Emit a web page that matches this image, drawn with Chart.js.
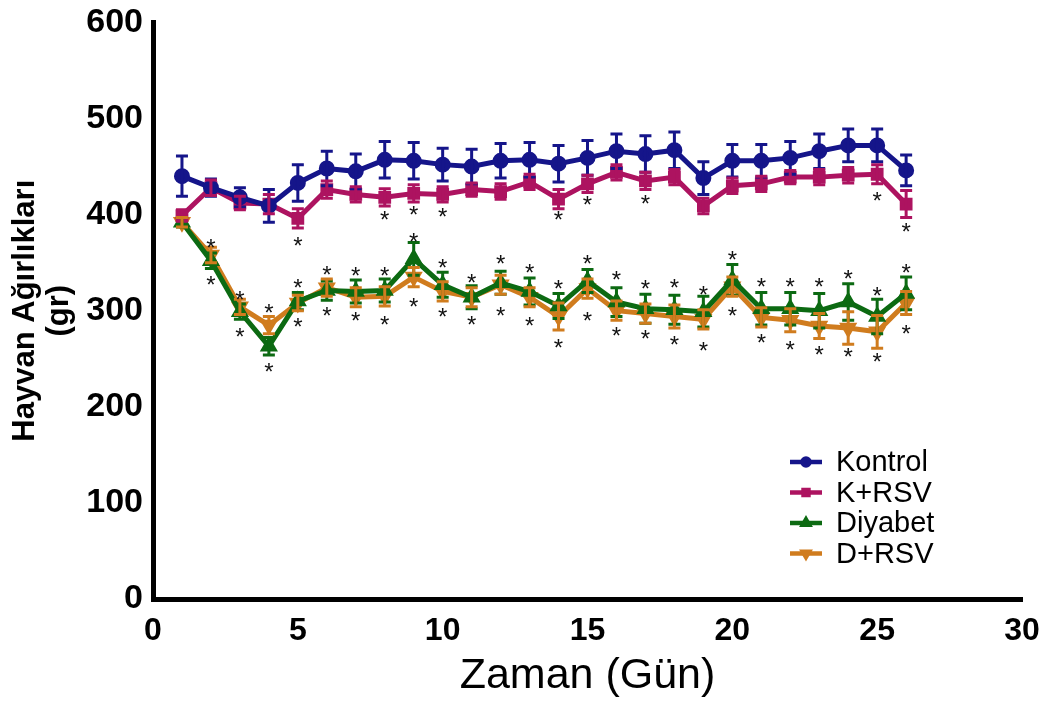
<!DOCTYPE html>
<html>
<head>
<meta charset="utf-8">
<script src="https://cdn.jsdelivr.net/npm/chart.js@4"></script>
<style>
  html, body { margin: 0; padding: 0; background: #fff; }
  #wrap { width: 1049px; height: 706px; }
</style>
</head>
<body>
<div id="wrap"><canvas id="weightChart"></canvas></div>
<script>
const days = [1,2,3,4,5,6,7,8,9,10,11,12,13,14,15,16,17,18,19,20,21,22,23,24,25,26];

const kontrol    = [440,428,418,409,433,448,445,457,456,452,450,456,457,453,459,466,463,467,438,456,456,459,466,472,472,446];
const kontrolErr = [21,9,10,17,19,18,18,19,19,17,18,18,18,19,18,18,19,19,17,17,17,17,18,17,17,16];
const kRsv       = [399,428,412,411,396,426,421,418,422,421,426,424,434,416,432,444,435,439,409,430,432,439,439,441,442,411];
const kRsvErr    = [6,8,7,10,10,9,8,9,9,8,7,8,8,10,9,8,9,8,8,8,8,7,8,8,10,14];
const diyabet    = [392,352,299,263,310,321,320,321,354,327,314,329,320,305,331,309,302,301,299,332,302,302,300,309,294,318];
const diyabetErr = [5,8,8,9,9,10,12,12,17,13,12,12,14,13,12,15,15,15,16,16,17,17,18,19,18,17];
const dRsv       = [392,358,304,285,308,324,314,315,335,320,314,327,314,294,323,300,297,294,291,325,293,290,284,282,278,308];
const dRsvErr    = [5,8,8,9,8,9,10,10,10,10,10,10,10,14,10,10,10,12,10,10,10,12,13,17,17,12];

// significance asterisks (day, value where the star sits)
const starDays   = [5,8,9,10,14,15,17,25,26,
                    2,3,4,5,6,7,8,9,10,11,12,13,14,15,16,17,18,19,20,21,22,23,24,25,26,
                    2,3,4,5,6,7,8,9,10,11,12,13,14,15,16,17,18,19,20,21,22,23,24,25,26];
const starValues = [372,399,404,402,399,415,416,419,387,
                    370,316,302,328,342,341,341,376,349,334,353,344,327,353,337,327,328,321,358,329,329,329,338,320,344,
                    332,277,241,288,299,294,290,309,298,290,299,289,266,294,278,275,269,263,299,271,264,259,257,251,281];

const seriesNames  = ['Kontrol', 'K+RSV', 'Diyabet', 'D+RSV'];
const seriesValues = [kontrol, kRsv, diyabet, dRsv];
const seriesErrors = [kontrolErr, kRsvErr, diyabetErr, dRsvErr];
const colors       = ['#15158a', '#ad1360', '#0c6a12', '#d07c1e'];
const markers      = ['circle', 'rect', 'triangle', 'triangle'];
const rotations    = [0, 0, 0, 180];

const FONT = "'Liberation Sans', Arial, sans-serif";

const errorBars = {
  id: 'errorBars',
  afterDatasetsDraw(chart) {
    const ctx = chart.ctx, y = chart.scales.y;
    chart.data.datasets.forEach((ds, i) => {
      const meta = chart.getDatasetMeta(i);
      ctx.save();
      ctx.strokeStyle = ds.borderColor;
      ctx.lineWidth = 3;
      meta.data.forEach((pt, j) => {
        const v = seriesValues[i][j], e = seriesErrors[i][j];
        const top = y.getPixelForValue(v + e), bot = y.getPixelForValue(v - e);
        ctx.beginPath();
        ctx.moveTo(pt.x, top); ctx.lineTo(pt.x, bot);
        ctx.moveTo(pt.x - 6, top); ctx.lineTo(pt.x + 6, top);
        ctx.moveTo(pt.x - 6, bot); ctx.lineTo(pt.x + 6, bot);
        ctx.stroke();
      });
      ctx.restore();
    });
  }
};

const stars = {
  id: 'stars',
  afterDatasetsDraw(chart) {
    const ctx = chart.ctx, xs = chart.scales.x, ys = chart.scales.y;
    ctx.save();
    ctx.fillStyle = '#111';
    ctx.font = '24px ' + FONT;
    ctx.textAlign = 'center';
    ctx.textBaseline = 'middle';
    starDays.forEach((d, i) => {
      ctx.fillText('*', xs.getPixelForValue(d), ys.getPixelForValue(starValues[i]) + 6);
    });
    ctx.restore();
  }
};

const boxLegend = {
  id: 'boxLegend',
  afterDraw(chart) {
    const ctx = chart.ctx;
    ctx.save();
    ctx.font = '29px ' + FONT;
    ctx.textBaseline = 'middle';
    chart.data.datasets.forEach((ds, i) => {
      const yy = 462 + i * 30.5;
      ctx.strokeStyle = ds.borderColor;
      ctx.lineWidth = 4.5;
      ctx.beginPath(); ctx.moveTo(790, yy); ctx.lineTo(822, yy); ctx.stroke();
      ctx.fillStyle = ds.borderColor;
      Chart.helpers.drawPoint(ctx, {pointStyle: markers[i], radius: 3.5, rotation: rotations[i], borderWidth: 1}, 806, yy);
      ctx.fillStyle = '#000';
      ctx.fillText(seriesNames[i], 836, yy + 1);
    });
    ctx.restore();
  }
};

new Chart(document.getElementById('weightChart'), {
  type: 'line',
  data: {
    datasets: seriesNames.map((name, i) => ({
      label: name,
      data: days.map((d, j) => ({x: d, y: seriesValues[i][j]})),
      borderColor: colors[i],
      backgroundColor: colors[i],
      borderWidth: 5,
      pointStyle: markers[i],
      rotation: rotations[i],
      pointRadius: 5.5,
      tension: 0
    }))
  },
  options: {
    responsive: true,
    maintainAspectRatio: false,
    animation: false,
    layout: { padding: { top: 19, right: 27, left: 0, bottom: 0 } },
    plugins: { legend: { display: false }, tooltip: { enabled: false } },
    scales: {
      x: {
        type: 'linear', min: 0, max: 30,
        afterFit: s => { s.height = 107; },
        grid: { display: false, drawTicks: true, tickLength: 9, tickWidth: 4, tickColor: '#000' },
        border: { display: true, color: '#000', width: 5 },
        ticks: { stepSize: 5, color: '#000', padding: 4, font: { family: FONT, size: 32, weight: 'bold' } },
        title: { display: true, text: 'Zaman (Gün)', color: '#000', padding: { top: 4 }, font: { family: FONT, size: 43 } }
      },
      y: {
        min: 0, max: 600,
        afterFit: s => { s.width = 153; },
        grid: { display: false, drawTicks: true, tickLength: 8, tickWidth: 4, tickColor: '#000' },
        border: { display: true, color: '#000', width: 5 },
        ticks: { stepSize: 100, color: '#000', padding: 2, font: { family: FONT, size: 34, weight: 'bold' } },
        title: { display: true, text: ['Hayvan Ağırlıkları', '(gr)'], color: '#000', padding: { top: 8, bottom: 0 }, font: { family: FONT, size: 31, weight: 'bold', lineHeight: 1.1 } }
      }
    }
  },
  plugins: [errorBars, stars, boxLegend]
});
</script>
</body>
</html>
